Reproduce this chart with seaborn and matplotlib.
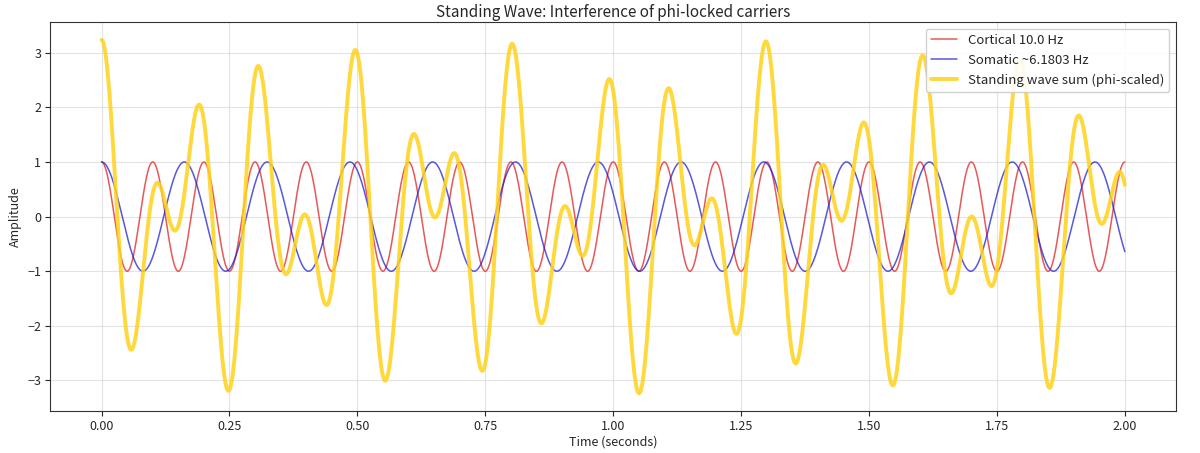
import numpy as np
import pandas as pd
import matplotlib
matplotlib.use("Agg")
import matplotlib.pyplot as plt
import seaborn as sns

# -------------------- Signal parameters --------------------
phi = 1.6180339887
cortical_hz = 10.0
somatic_hz = cortical_hz / phi          # ~6.1803 Hz
duration_s = 2.0
n_samples = 2000

t = np.linspace(0, duration_s, n_samples)
cortical = np.cos(2 * np.pi * cortical_hz * t)
somatic = np.cos(2 * np.pi * somatic_hz * t)
standing = phi * (cortical + somatic)

df = pd.DataFrame({"t": t, "cortical": cortical, "somatic": somatic, "standing": standing})

# -------------------- Plot --------------------
sns.set_style("ticks")
plt.rcParams["font.family"] = ["Noto Sans CJK SC", "DejaVu Sans"]

fig, ax = plt.subplots(figsize=(12, 4.53), dpi=100)

sns.lineplot(data=df, x="t", y="cortical", ax=ax, color="#e02020", alpha=0.75,
             linewidth=1.1, label=f"Cortical {cortical_hz} Hz")
sns.lineplot(data=df, x="t", y="somatic", ax=ax, color="#2020d0", alpha=0.75,
             linewidth=1.1, label=f"Somatic ~{somatic_hz:.4f} Hz")
sns.lineplot(data=df, x="t", y="standing", ax=ax, color="#ffd21a", alpha=0.85,
             linewidth=2.8, label="Standing wave sum (phi-scaled)")

ax.set_title("Standing Wave: Interference of phi-locked carriers", fontsize=11, pad=4)
ax.set_xlabel("Time (seconds)", fontsize=9, labelpad=2)
ax.set_ylabel("Amplitude", fontsize=9, labelpad=4)
ax.grid(True, color="#dddddd", linewidth=0.8, alpha=0.8)
ax.tick_params(labelsize=9, pad=3)
for s in ax.spines.values():
    s.set_color("#333333")
ax.legend(loc="upper right", fontsize=9.5, framealpha=0.9)

plt.subplots_adjust(left=0.042, right=0.98, top=0.951, bottom=0.093)
plt.savefig("out.png", dpi=100)
